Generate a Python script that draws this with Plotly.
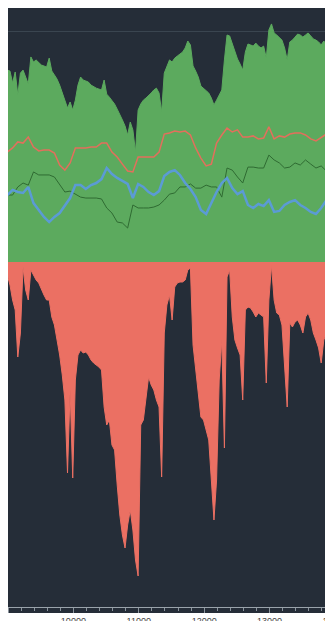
import numpy as np
import plotly.graph_objects as go
from plotly.subplots import make_subplots

# ---- data ----
# trade index for equity / drawdown samples
trade_idx = list(range(8990, 8990 + 40 * 126, 40))
equity = [83.1, 82.7, 77.5, 82.3, 72.3, 81.8, 83.1, 79.7, 77.1, 88.8,
          86.6, 87.5, 86.2, 85.3, 84.9, 84.4, 88.3, 82.7, 81.0, 79.2,
          76.6, 73.6, 70.1, 66.7, 69.3, 65.8, 70.1, 76.6, 80.1, 78.8,
          78.4, 77.9, 76.6, 75.8, 75.3, 74.9, 74.5, 78.8, 72.7, 71.4,
          70.1, 68.4, 66.2, 64.1, 61.5, 58.9, 55.0, 60.6, 57.2, 47.6,
          65.8, 68.4, 70.1, 71.0, 71.9, 73.2, 74.5, 75.3, 73.2, 65.0,
          81.8, 84.9, 87.5, 86.6, 88.3, 89.2, 90.1, 90.9, 92.7, 95.7,
          94.0, 84.9, 82.7, 80.1, 76.2, 75.3, 74.5, 73.2, 71.0, 68.0,
          70.1, 72.3, 74.5, 87.5, 98.3, 97.9, 94.4, 90.5, 87.9, 85.7,
          83.1, 90.9, 94.4, 94.0, 93.5, 94.8, 93.5, 92.7, 93.5, 88.3,
          100.5, 103.1, 99.2, 98.3, 97.4, 96.1, 92.7, 87.5, 95.3, 96.1,
          97.4, 98.7, 98.3, 97.4, 98.3, 99.2, 97.9, 96.6, 96.1, 95.3,
          94.0, 95.7, 94.0, 88.8, 97.9, 99.6]
drawdown = [-2.6, -4.6, -7.6, -9.6, -19.0, -14.2, -1.0, -5.6, -7.6, -1.6,
            -2.6, -3.6, -4.2, -5.6, -6.6, -7.6, -7.6, -11.0, -12.6, -15.6,
            -18.6, -22.6, -27.6, -42.2, -25.6, -43.2, -23.6, -18.6, -17.6, -18.2,
            -18.0, -18.6, -19.6, -20.2, -20.6, -21.0, -21.6, -29.0, -32.6, -31.6,
            -36.6, -37.6, -44.6, -50.6, -54.6, -57.2, -52.6, -49.6, -53.6, -59.6,
            -62.8, -32.6, -31.6, -27.6, -23.0, -24.6, -25.6, -27.6, -29.0, -43.0,
            -14.2, -8.6, -6.6, -11.6, -5.0, -4.2, -4.0, -4.0, -3.6, -1.6,
            -1.2, -16.6, -21.6, -26.6, -31.0, -31.6, -33.6, -35.6, -43.6, -51.6,
            -43.6, -23.6, -15.6, -37.2, -3.0, -1.6, -11.0, -15.6, -17.2, -18.6,
            -27.6, -9.6, -9.0, -9.2, -10.0, -11.0, -10.2, -10.6, -11.0, -24.2,
            -7.6, -0.6, -7.6, -10.2, -10.6, -12.6, -21.0, -29.0, -12.2, -13.0,
            -12.0, -11.6, -12.6, -14.2, -11.0, -10.2, -11.6, -14.2, -15.6, -17.2,
            -20.2, -15.6, -14.2, -24.2, -12.2, -11.0]

# coarser index for the three overlay lines
line_idx = list(range(8990, 8990 + 80 * 63, 80))
red_series = [47.6, 49.4, 52.0, 51.5, 54.1, 49.8, 48.1, 48.5, 48.5, 47.2,
              42.0, 39.8, 42.9, 49.4, 49.4, 49.4, 49.8, 49.8, 51.5, 51.5,
              47.6, 45.5, 42.4, 39.4, 39.0, 45.5, 45.5, 45.5, 45.5, 47.6,
              55.4, 55.9, 56.7, 56.3, 56.7, 55.0, 49.4, 45.0, 41.6, 42.4,
              51.5, 55.0, 58.0, 56.3, 57.2, 54.1, 54.1, 54.6, 53.3, 53.7,
              58.5, 53.3, 54.6, 54.1, 55.4, 55.9, 55.9, 55.0, 53.3, 52.4,
              54.1, 55.4, 56.7]
blue_series = [29.0, 31.2, 30.3, 29.9, 32.5, 25.5, 22.5, 19.5, 17.3, 19.5,
               21.2, 24.7, 27.7, 33.3, 33.3, 31.6, 33.3, 34.2, 35.9, 40.7,
               38.1, 36.4, 35.1, 33.8, 27.7, 33.8, 32.5, 30.3, 29.0, 30.7,
               37.2, 39.0, 39.8, 37.7, 34.2, 31.6, 28.1, 22.5, 20.8, 25.5,
               30.3, 34.2, 36.4, 32.0, 29.4, 30.7, 24.7, 23.4, 25.1, 24.2,
               26.8, 21.7, 22.1, 24.7, 26.0, 26.8, 24.7, 23.4, 21.7, 20.8,
               23.4, 26.8, 30.3]
green_series = [29.0, 29.0, 32.5, 34.2, 33.3, 39.0, 37.7, 37.7, 37.7, 36.8,
                33.3, 30.3, 30.7, 29.4, 28.1, 27.7, 27.7, 27.7, 27.3, 23.4,
                21.2, 17.3, 16.9, 14.7, 24.7, 23.4, 23.4, 23.4, 23.8, 24.7,
                26.8, 29.4, 29.9, 32.5, 32.5, 33.8, 32.0, 32.0, 33.3, 32.5,
                32.5, 28.1, 40.7, 39.8, 36.8, 34.2, 41.1, 41.1, 40.7, 40.7,
                46.3, 44.2, 42.9, 40.7, 41.1, 42.9, 42.0, 44.2, 42.4, 40.7,
                41.6, 39.4, 39.4]

x_ticks = [9000, 10000, 11000, 12000, 13000, 14000]
x_tick_text = ["9000", "10000", "11000", "12000", "13000", "14000"]

# ---- style ----
BG = "#252d38"
GREEN = "#5caa5e"
RED = "#eb7063"
BLUE = "#5b9bd5"
DKGREEN = "#2f6b32"
REDLINE = "#e36f5c"
AXIS = "#8a939c"

FIG_W, FIG_H = 340, 629
PLOT_H = 599
B = FIG_H - PLOT_H

fig = make_subplots(rows=2, cols=1, shared_xaxes=True, vertical_spacing=0,
                    row_heights=[254 / 599, 345 / 599])

fig.add_trace(go.Scatter(x=trade_idx, y=equity, mode="lines", fill="tozeroy",
                         line=dict(color=GREEN, width=1), fillcolor=GREEN,
                         hoverinfo="skip", showlegend=False), row=1, col=1)
fig.add_trace(go.Scatter(x=line_idx, y=green_series, mode="lines",
                         line=dict(color=DKGREEN, width=1),
                         hoverinfo="skip", showlegend=False), row=1, col=1)
fig.add_trace(go.Scatter(x=line_idx, y=blue_series, mode="lines",
                         line=dict(color=BLUE, width=2.5),
                         hoverinfo="skip", showlegend=False), row=1, col=1)
fig.add_trace(go.Scatter(x=line_idx, y=red_series, mode="lines",
                         line=dict(color=REDLINE, width=1.5),
                         hoverinfo="skip", showlegend=False), row=1, col=1)
fig.add_trace(go.Scatter(x=trade_idx, y=drawdown, mode="lines", fill="tozeroy",
                         line=dict(color=RED, width=1), fillcolor=RED,
                         hoverinfo="skip", showlegend=False), row=2, col=1)

fig.update_layout(
    width=FIG_W, height=FIG_H,
    margin=dict(l=0, r=0, t=0, b=B),
    paper_bgcolor="white", plot_bgcolor=BG,
    showlegend=False,
)
fig.update_xaxes(range=[9000, 14200], showgrid=False, zeroline=False)
fig.update_xaxes(showticklabels=False, ticks="", row=1, col=1)
fig.update_xaxes(row=2, col=1, tickvals=x_ticks, ticktext=x_tick_text,
                 ticks="outside", ticklen=5, tickcolor=AXIS,
                 showline=True, linecolor="#9aa3ab", linewidth=1,
                 tickfont=dict(size=9, color="#444444", family="Liberation Sans"),
                 minor=dict(dtick=200, ticks="outside", ticklen=3, tickcolor=AXIS))
fig.update_yaxes(row=1, col=1, range=[0, 110], tickvals=[100], showticklabels=False,
                 showgrid=True, gridcolor="#3a4550", gridwidth=1, zeroline=False)
fig.update_yaxes(row=2, col=1, range=[-69, 0], showticklabels=False,
                 showgrid=False, zeroline=False)

# dark band under the axis line, behind the tick marks
fig.add_shape(type="rect", xref="paper", yref="paper", x0=0, x1=1,
              y0=-6 / PLOT_H, y1=0, fillcolor=BG, line=dict(width=0), layer="below")

fig.write_html("out.html")
